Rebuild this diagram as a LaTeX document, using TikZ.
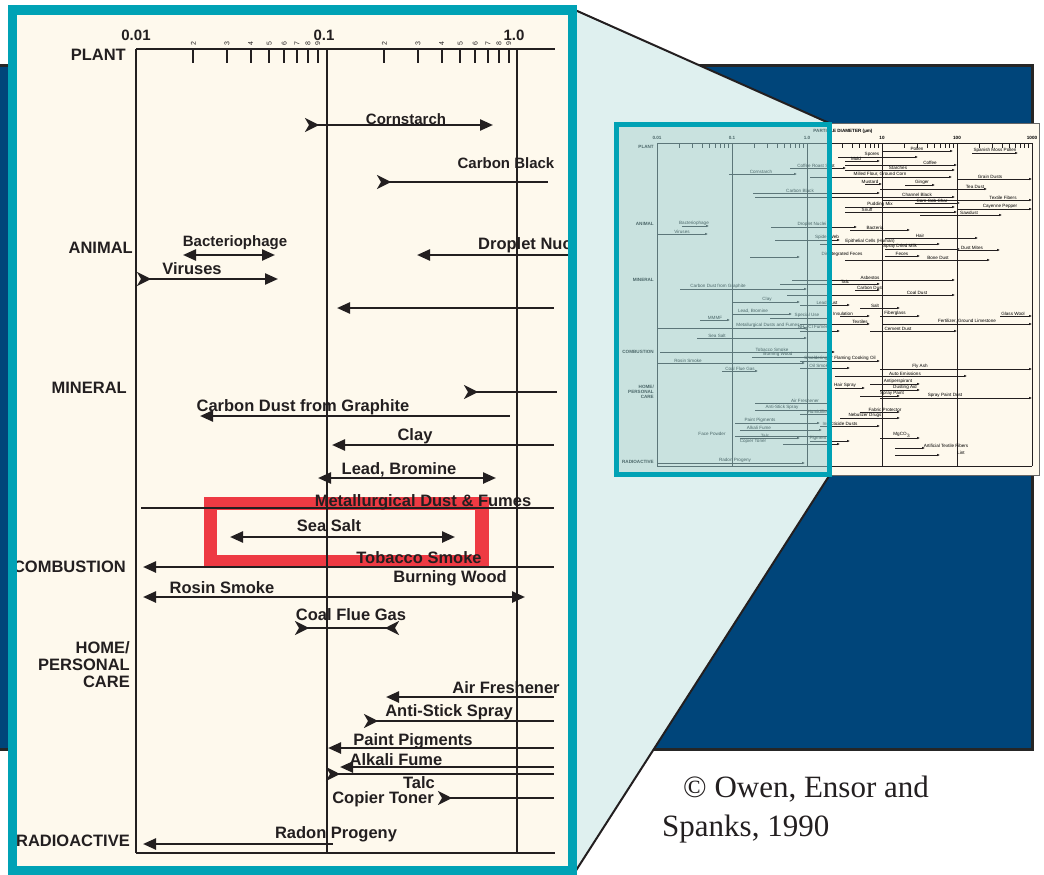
\documentclass[tikz,border=0pt]{standalone}
\usepackage{fontspec}
\setmainfont{Liberation Serif}
\newfontfamily\arialfont{Liberation Sans}
\usetikzlibrary{arrows.meta}
\definecolor{bandblue}{RGB}{0,69,122}
\definecolor{panelcyan}{RGB}{0,162,181}
\definecolor{panelcream}{RGB}{254,249,237}
\definecolor{zoomcyan}{RGB}{223,240,239}
\definecolor{thumbteal}{RGB}{150,205,210}
\definecolor{boxred}{RGB}{238,58,67}
\definecolor{inkdark}{RGB}{35,31,32}
\newcommand\lblfont{\arialfont\bfseries\fontsize{16.5pt}{18pt}\selectfont}
\newcommand\smlblfont{\arialfont\bfseries\fontsize{15pt}{17pt}\selectfont}
\newcommand\tinyfont{\arialfont\fontsize{4.6pt}{5pt}\selectfont}
\newcommand\tinybold{\arialfont\bfseries\fontsize{4.6pt}{5.2pt}\selectfont}
\tikzset{
  every node/.style={font=\rmfamily}
}
\begin{document}
\begin{tikzpicture}[x=1pt,y=-1pt,>={Triangle[length=13pt,width=11pt]}]
  % Define styles for size bars and labels
  \tikzset{
    chev/.tip={Stealth[reversed,length=14pt,width=14pt,inset=4pt]},
    sizebar/.style={draw=inkdark,line width=2.4pt},
    gridline/.style={draw=inkdark,line width=2pt},
    lbl/.style={text=inkdark,font=\lblfont,inner sep=0pt,anchor=base},
    smlbl/.style={lbl,font=\smlblfont},
    catlbl/.style={lbl,anchor=base east,align=right},
    ticklbl/.style={text=inkdark,font=\arialfont\fontsize{7pt}{7pt}\selectfont,inner sep=0pt,rotate=90},
    thinbar/.style={draw=inkdark,line width=0.75pt,-{Latex[length=2.8pt,width=2.4pt]}},
    thinaxis/.style={draw=inkdark,line width=0.8pt},
    tinylbl/.style={text=black,font=\tinyfont,inner sep=0.4pt,anchor=south},
    tinycat/.style={text=black,font=\tinybold,inner sep=0pt,anchor=east,align=right}
  }
  \useasboundingbox (0,0) rectangle (1044,875);
  \fill[white] (0,0) rectangle (1044,875);

  % Blue band behind everything
  \filldraw[fill=bandblue,draw=black!85,line width=3pt] (-5,66) rectangle (1032,749);

  % Zoom projection from the thumbnail
  \fill[zoomcyan] (575,10) -- (829,123) -- (829,476) -- (575,872) -- cycle;
  \draw[inkdark,line width=2pt] (575,10) -- (829,123);
  \draw[inkdark,line width=2pt] (829,476) -- (575,872);

  % Thumbnail of the full chart
  \filldraw[fill=panelcream,draw=black!60,line width=0.8pt] (617,123) rectangle (1039,475);
  \node[text=black,font=\tinybold] (ttitle) at (843,131) {PARTICLE DIAMETER (µm)};
  \foreach \d/\v in {657/0.01,732/0.1,807/1.0,882/10,957/100,1032/1000} {
    \node[text=black,font=\tinybold,inner sep=0pt] (tn\d) at (\d,138) {\v};
    \draw[thinaxis] (\d,143) -- (\d,466);
  }
  \draw[thinaxis] (657,143) -- (1032,143);
  \draw[thinaxis] (657,466) -- (1032,466);
  \foreach \d in {657,732,807,882,957}
    \foreach \k in {2,...,9}
      \draw[thinaxis] ({\d+75*log10(\k)},143) -- ++(0,5);
  \node[tinycat] (tplant) at (654,147) {PLANT};
  \node[tinycat] (tanimal) at (654,224) {ANIMAL};
  \node[tinycat] (tmineral) at (654,280) {MINERAL};
  \node[tinycat] (tcomb) at (654,352) {COMBUSTION};
  \node[tinycat] (thome) at (654,392) {HOME/\\PERSONAL\\CARE};
  \node[tinycat] (tradio) at (654,462) {RADIOACTIVE};
  \foreach \yy/\xa/\xb/\lx/\txt in {
      151/882/953/917/Pollen, 153/972/1018/995/Spanish Moss Pollen,
      157/838/918/872/Spores, 161/845/880/856/Mold, 165/845/957/930/Coffee,
      168/790/846/816/Coffee Roast Soot, 170/845/955/898/Starches,
      174/729/797/761/Cornstarch, 177/810/952/880/{Milled Flour, Ground Corn},
      179/957/1032/990/Grain Dusts, 184/865/882/870/Mustard, 185/905/935/922/Ginger,
      189/880/987/975/Tea Dust, 193/753/880/800/Carbon Black,
      197/755/955/917/Channel Black, 200/882/1032/1003/Textile Fibers,
      203/915/960/932/Corn Cob Char, 207/845/955/880/Pudding Mix,
      209/957/1032/1000/Cayenne Pepper, 212/845/957/867/Snuff,
      215/920/1002/969/Sawdust,
      226/682/709/694/Bacteriophage, 234/657/708/682/Viruses,
      227/771/857/812/Droplet Nuclei, 230/850/910/875/Bacteria,
      238/885/978/920/Hair, 240/775/840/827/Spider Web,
      244/820/940/870/Epithelial Cells (Human), 249/885/960/900/Spray Dried Milk,
      250/957/1000/972/Dust Mites, 257/750/800/842/Disintegrated Feces,
      256/885/920/902/Feces, 260/845/990/938/Bone Dust,
      280/792/955/870/Asbestos, 284/780/880/845/Talc,
      289/680/807/718/Carbon Dust from Graphite, 290/855/880/870/Carbon Dust,
      295/787/955/917/Coal Dust, 302/733/800/767/Clay, 305/800/850/827/Lead Dust,
      308/860/900/875/Salt, 314/732/792/753/{Lead, Bromine},
      316/840/870/843/Insulation, 316/880/920/895/Fiberglass,
      316/1000/1032/1013/Glass Wool, 320/700/730/715/MMMF,
      318/770/830/807/Special Use, 324/800/870/860/Textiles,
      324/882/1032/967/{Fertilizer, Ground Limestone},
      328/657/807/768/Metallurgical Dusts and Fumes, 331/800/840/813/NH$_4$Cl Fumes,
      331/870/957/898/Cement Dust, 338/697/807/717/Sea Salt,
      352/660/835/772/Tobacco Smoke, 357/752/830/778/Burning Wood,
      363/657/805/688/Rosin Smoke, 361/800/880/840/Smoldering or Flaming Cooking Oil,
      368/800/850/820/Oil Smoke, 371/722/758/740/Coal Flue Gas,
      369/880/1032/920/Fly Ash, 376/835/967/905/Auto Emissions,
      384/870/920/898/Antiperspirant, 388/835/865/845/Hair Spray,
      390/880/920/905/Dusting Aid, 396/860/900/892/Spray Paint,
      398/880/1032/945/Spray Paint Dust, 403/755/832/805/Air Freshener,
      410/755/830/782/Anti-Stick Spray, 412/860/900/885/Fabric Protector,
      414/800/830/818/Humidifier, 418/840/900/865/Nebulizer Drugs,
      423/735/820/760/Paint Pigments, 426/820/880/840/Insecticide Dusts,
      430/740/822/759/Alkali Fume, 436/735/830/712/Face Powder,
      438/740/800/765/Talc, 441/810/850/818/Pigment, 438/880/920/902/MgCO$_3$,
      444/783/840/753/Copier Toner, 448/895/925/946/Artificial Textile Fibers,
      455/895/940/961/Lint, 463/657/805/735/Radon Progeny} {
    \draw[thinbar] (\xa,\yy) -- (\xb,\yy);
    \node[tinylbl] (t\xa-\yy) at (\lx,\yy) {\txt};
  }
  % Teal frame on the part that is enlarged
  \fill[thumbteal,opacity=0.5] (616.5,124.5) rectangle (829.5,474.5);
  \draw[panelcyan,line width=5pt] (616.5,124.5) rectangle (829.5,474.5);

  % Enlarged panel
  \begin{scope}
    \clip (12.5,10) rectangle (572.5,870.5);
    \fill[panelcream] (12.5,10) rectangle (572.5,870.5);
    \draw[boxred,line width=13.5pt] (210.5,503.5) rectangle (482,561.5);

    % Axes and decade lines
    \draw[gridline] (136,49) -- (555,49);
    \draw[gridline] (136,853) -- (555,853);
    \draw[gridline] (136,49) -- (136,853);
    \draw[gridline] (327,49) -- (327,853);
    \draw[gridline] (517,49) -- (517,853);
    \foreach \d in {136,327}
      \foreach \k in {2,...,9} {
        \draw[gridline] ({\d+190.5*log10(\k)},49) -- ++(0,14);
        \node[ticklbl] (tick\d-\k) at ({\d+190.5*log10(\k)},44) {\k};
      }
    \node[lbl,font=\smlblfont] (d001) at (136,41) {0.01};
    \node[lbl,font=\smlblfont] (d01) at (324,41) {0.1};
    \node[lbl,font=\smlblfont] (d1) at (514,41) {1.0};

    % Source categories
    \node[catlbl] (plant) at (126,61) {PLANT};
    \node[catlbl] (animal) at (133,253) {ANIMAL};
    \node[catlbl] (mineral) at (127,393) {MINERAL};
    \node[catlbl] (combustion) at (126,572) {COMBUSTION};
    \node[catlbl] (home) at (130,653) {HOME/};
    \node[catlbl] (personal) at (130,670) {PERSONAL};
    \node[catlbl] (care) at (130,687) {CARE};
    \node[catlbl] (radio) at (130,846) {RADIOACTIVE};

    % Size ranges
    \draw[sizebar,chev->] (305,125) -- (493,125);
    \node[smlbl] (cornstarch) at (406,124) {Cornstarch};
    \draw[sizebar,chev-] (377,182) -- (548,182);
    \node[smlbl] (carbonblack) at (506,168) {Carbon Black};
    \draw[sizebar,<->] (183,255) -- (275,255);
    \node[smlbl] (phage) at (235,246) {Bacteriophage};
    \draw[sizebar,chev->] (137,279) -- (278,279);
    \node[lbl] (viruses) at (192,274) {Viruses};
    \draw[sizebar,<-] (417,255) -- (568,255);
    \node[lbl,anchor=base west] (droplet) at (478,249) {Droplet Nuclei};
    \draw[sizebar,<-] (337,308) -- (554,308);

    \draw[sizebar,chev-] (464,392) -- (557,392);
    \draw[sizebar,<-] (200,416) -- (510,416);
    \node[lbl] (graphite) at (303,411) {Carbon Dust from Graphite};
    \draw[sizebar,<-] (332,445) -- (554,445);
    \node[lbl] (clay) at (415,440) {Clay};
    \draw[sizebar,<->] (318,478) -- (496,478);
    \node[lbl] (lead) at (399,474) {Lead, Bromine};
    \draw[sizebar] (141,508) -- (554,508);
    \node[lbl] (metal) at (423,506) {Metallurgical Dust \& Fumes};
    \draw[sizebar,<->] (230,537) -- (455,537);
    \node[lbl] (seasalt) at (329,531) {Sea Salt};

    \draw[sizebar,<-] (143,567) -- (554,567);
    \node[lbl] (tobacco) at (419,563) {Tobacco Smoke};
    \node[lbl] (wood) at (450,582) {Burning Wood};
    \draw[sizebar,<->] (143,597) -- (525,597);
    \node[lbl] (rosin) at (222,593) {Rosin Smoke};
    \draw[sizebar,chev-chev] (295,628) -- (399,628);
    \node[lbl] (coalflue) at (351,620) {Coal Flue Gas};

    \draw[sizebar,<-] (386,697) -- (554,697);
    \node[lbl] (airfresh) at (506,693) {Air Freshener};
    \draw[sizebar,chev-] (364,721) -- (554,721);
    \node[lbl] (antistick) at (449,716) {Anti-Stick Spray};
    \draw[sizebar,<-] (328,748) -- (554,748);
    \node[lbl] (paint) at (413,745) {Paint Pigments};
    \draw[sizebar,<-] (340,767) -- (554,767);
    \node[lbl] (alkali) at (396,765) {Alkali Fume};
    \draw[sizebar,chev-] (326,774) -- (554,774);
    \node[lbl] (talc) at (419,788) {Talc};
    \draw[sizebar,chev-] (438,798) -- (554,798);
    \node[lbl] (toner) at (383,803) {Copier Toner};
    \draw[sizebar,<-] (143,844) -- (333,844);
    \node[lbl] (radon) at (336,838) {Radon Progeny};
  \end{scope}
  \draw[panelcyan,line width=9.5pt] (12.5,10) rectangle (572.5,870.5);

  % Source note
  \node[text=inkdark,font=\fontsize{31pt}{37pt}\selectfont,anchor=base west,inner sep=0pt] (note1) at (683,797) {© Owen, Ensor and};
  \node[text=inkdark,font=\fontsize{31pt}{37pt}\selectfont,anchor=base west,inner sep=0pt] (note2) at (662,836) {Spanks, 1990};
\end{tikzpicture}
\end{document}
